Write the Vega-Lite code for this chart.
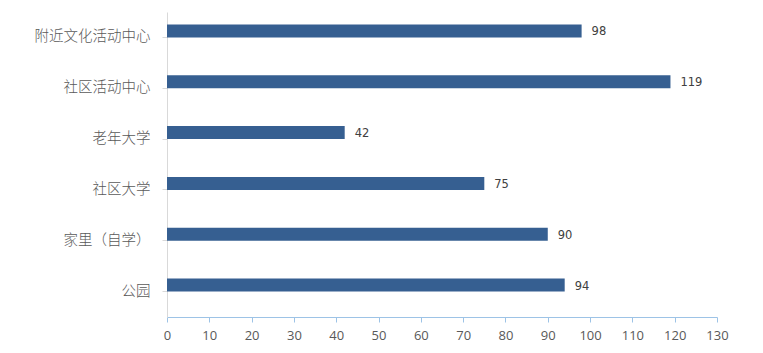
{
  "$schema": "https://vega.github.io/schema/vega-lite/v6.json",
  "width": 550,
  "height": 305,
  "autosize": "none",
  "padding": {"left": 167, "top": 12, "right": 46, "bottom": 36},
  "background": "white",
  "config": {"view": {"stroke": null}},
  "data": {"values": [
    {"place": "附近文化活动中心", "count": 98},
    {"place": "社区活动中心", "count": 119},
    {"place": "老年大学", "count": 42},
    {"place": "社区大学", "count": 75},
    {"place": "家里（自学）", "count": 90},
    {"place": "公园", "count": 94}
  ]},
  "encoding": {
    "y": {"field": "place", "type": "nominal", "sort": null,
      "axis": {"title": null, "domainColor": "#d9d9d9", "tickColor": "#d9d9d9", "tickSize": 5,
        "labelFont": "Noto Sans CJK SC", "labelFontSize": 14.5, "labelFontWeight": 300, "labelColor": "#595959", "labelPadding": 12}},
    "x": {"field": "count", "type": "quantitative",
      "scale": {"domain": [0, 130], "nice": false},
      "axis": {"title": null, "values": [0,10,20,30,40,50,60,70,80,90,100,110,120,130], "grid": false, "labelFlush": false,
        "domainColor": "#9dc3e6", "tickColor": "#9dc3e6", "tickSize": 5,
        "labelFont": "Open Sans", "labelFontSize": 13, "labelColor": "#595959", "labelPadding": 7}}
  },
  "layer": [
    {"mark": {"type": "bar", "color": "#365F91", "height": 13, "yOffset": -6.5}},
    {"mark": {"type": "text", "align": "left", "dx": 10, "yOffset": -5, "font": "DejaVu Sans", "fontSize": 11.5, "color": "#404040"},
     "encoding": {"text": {"field": "count", "type": "quantitative"}}}
  ]
}
